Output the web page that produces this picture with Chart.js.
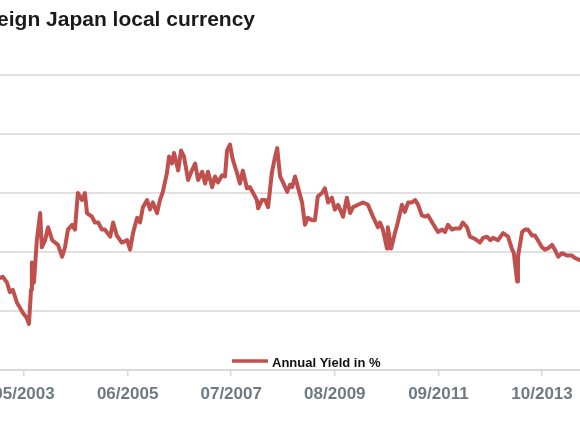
<!DOCTYPE html>
<html>
<head>
<meta charset="utf-8">
<script src="https://cdn.jsdelivr.net/npm/chart.js@4.4.1/dist/chart.umd.min.js"></script>
<style>
  html, body { margin: 0; padding: 0; background: #fff; overflow: hidden; width: 580px; height: 435px; }
  /* the chart is wider than the window and shifted left, so it shows cropped like the original */
  #wrap { position: absolute; left: -100px; top: 0; width: 800px; height: 435px; }
</style>
</head>
<body>
<div id="wrap"><canvas id="grafico"></canvas></div>
<script>
const titulo = 'Sovereign Japan local currency'
const serieNome = 'Annual Yield in %'
const tickLabels = ['05/2003', '06/2005', '07/2007', '08/2009', '09/2011', '10/2013']

// x = months since 01/2000, y = yield in %
const meses = [33.5, 34.2, 34.9, 35.9, 36.6, 37.3, 38.3, 39.0, 39.8, 40.7, 41.2, 41.7, 41.9, 42.4, 43.1, 43.9, 44.3, 45.1, 45.8, 46.8,
  47.5, 48.2, 49.2, 49.9, 50.6, 51.6, 52.3, 53.0, 54.0, 54.7, 55.2, 56.4, 57.1, 57.9, 58.8, 59.5, 60.8, 61.5, 62.4, 63.6,
  64.9, 65.6, 66.3, 67.3, 68.0, 68.7, 69.7, 70.4, 71.1, 72.1, 72.8, 73.5, 74.5, 75.0, 75.7, 76.2, 77.2, 77.9, 78.6, 79.6,
  80.5, 81.3, 82.0, 83.0, 83.7, 84.4, 85.4, 86.1, 86.8, 87.8, 88.5, 89.0, 89.7, 90.4, 91.4, 92.1, 92.8, 93.8, 94.5, 95.3,
  96.2, 96.5, 97.4, 98.2, 98.9, 99.8, 100.6, 101.1, 101.8, 102.5, 103.5, 104.2, 104.7, 105.4, 106.1, 107.1, 107.8, 108.5, 109.5, 110.2,
  110.9, 111.9, 112.6, 113.4, 114.3, 115.0, 115.8, 117.0, 117.9, 118.7, 119.4, 120.6, 121.8, 123.0, 124.2, 125.4, 125.9, 126.6, 127.6, 127.8,
  128.6, 129.5, 130.2, 131.2, 131.9, 132.7, 133.6, 134.4, 135.1, 136.0, 136.8, 137.5, 138.5, 139.2, 139.9, 140.9, 141.6, 142.3, 143.3, 144.0,
  145.2, 145.9, 146.9, 147.6, 148.3, 149.3, 150.0, 150.8, 151.7, 152.5, 153.2, 154.4, 155.6, 156.8, 157.8, 158.2, 159.0, 159.2, 160.2, 160.9,
  161.6, 162.6, 163.3, 164.0, 165.0, 165.7, 166.4, 167.4, 168.1, 168.9, 169.8, 171.0, 172.2, 172.9, 174.2, 175.5]
const rendimentos = [0.78, 0.78, 0.79, 0.74, 0.66, 0.68, 0.57, 0.53, 0.48, 0.44, 0.39, 0.68, 0.91, 0.74, 1.10, 1.33, 1.04, 1.10, 1.21, 1.10,
  1.08, 1.06, 0.96, 1.04, 1.19, 1.23, 1.19, 1.50, 1.44, 1.50, 1.33, 1.30, 1.25, 1.25, 1.19, 1.19, 1.13, 1.25, 1.14, 1.08,
  1.10, 1.02, 1.16, 1.29, 1.25, 1.38, 1.44, 1.36, 1.42, 1.33, 1.44, 1.51, 1.67, 1.81, 1.75, 1.84, 1.69, 1.86, 1.81, 1.61,
  1.69, 1.75, 1.61, 1.68, 1.58, 1.68, 1.55, 1.64, 1.59, 1.65, 1.64, 1.86, 1.91, 1.78, 1.67, 1.58, 1.69, 1.54, 1.55, 1.50,
  1.44, 1.37, 1.44, 1.44, 1.38, 1.67, 1.81, 1.88, 1.64, 1.59, 1.51, 1.57, 1.55, 1.64, 1.55, 1.42, 1.23, 1.29, 1.27, 1.27,
  1.47, 1.50, 1.54, 1.42, 1.46, 1.36, 1.40, 1.30, 1.46, 1.33, 1.38, 1.40, 1.42, 1.40, 1.30, 1.21, 1.25, 1.19, 1.03, 1.21,
  1.03, 1.16, 1.25, 1.40, 1.34, 1.42, 1.42, 1.44, 1.40, 1.31, 1.30, 1.31, 1.25, 1.21, 1.17, 1.19, 1.17, 1.23, 1.19, 1.20,
  1.20, 1.25, 1.21, 1.13, 1.12, 1.10, 1.08, 1.12, 1.13, 1.10, 1.12, 1.10, 1.16, 1.13, 1.02, 0.99, 0.75, 0.96, 1.17, 1.19,
  1.19, 1.14, 1.14, 1.10, 1.04, 1.02, 1.03, 1.06, 1.02, 0.96, 0.99, 0.97, 0.97, 0.95, 0.93, 0.92]

const corLinha = '#c0504d'
const fonte = '"Liberation Sans", Arial, Helvetica, sans-serif'

function paraMes(label) {
  let [m, a] = label.split('/').map(Number)
  return (a - 2000) * 12 + (m - 1)
}

function labelDoMes(v) {
  let l = tickLabels.find(t => paraMes(t) === v)
  return l || ''
}

// title and legend drawn by hand, the original has them cropped / inside the plot
const extras = {
  id: 'extras',
  afterDraw(chart) {
    const ctx = chart.ctx
    ctx.save()
    ctx.fillStyle = '#1a1a1a'
    ctx.font = 'bold 21px ' + fonte
    ctx.textAlign = 'right'
    ctx.textBaseline = 'alphabetic'
    ctx.fillText(titulo, 355, 26)

    ctx.strokeStyle = corLinha
    ctx.lineWidth = 3.5
    ctx.beginPath()
    ctx.moveTo(332, 361)
    ctx.lineTo(368, 361)
    ctx.stroke()
    ctx.fillStyle = '#111'
    ctx.font = 'bold 13px ' + fonte
    ctx.textAlign = 'left'
    ctx.fillText(serieNome, 372, 367)
    ctx.restore()
  }
}

const ctx = document.getElementById('grafico').getContext('2d')

new Chart(ctx, {
  type: 'line',
  data: {
    datasets: [{
      label: serieNome,
      data: meses.map((m, i) => ({ x: m, y: rendimentos[i] })),
      borderColor: corLinha,
      borderWidth: 4,
      pointRadius: 0,
      tension: 0,
      borderJoinStyle: 'round'
    }]
  },
  options: {
    responsive: true,
    maintainAspectRatio: false,
    animation: false,
    layout: { padding: { top: 75, left: 40, right: 40, bottom: 0 } },
    plugins: { legend: { display: false }, tooltip: { enabled: false }, title: { display: false } },
    scales: {
      x: {
        type: 'linear',
        min: 19.73,
        max: 193.47,
        afterBuildTicks: s => { s.ticks = tickLabels.map(l => ({ value: paraMes(l) })) },
        afterFit: s => { s.height = 65 },
        grid: { drawOnChartArea: false, drawTicks: true, tickLength: 6, color: '#d6dadc', lineWidth: 1.5 },
        border: { display: true, color: '#d6dadc', width: 2 },
        ticks: {
          autoSkip: false, maxRotation: 0, padding: 8,
          color: '#6e7a82',
          font: { family: fonte, size: 17, weight: 'bold' },
          callback: v => labelDoMes(v)
        }
      },
      y: {
        min: 0,
        max: 2.5,
        afterFit: s => { s.width = 0 },
        ticks: { display: false, stepSize: 0.5 },
        grid: { color: '#e0e0e0', lineWidth: 2, drawTicks: false },
        border: { display: false }
      }
    }
  },
  plugins: [extras]
})
</script>
</body>
</html>
